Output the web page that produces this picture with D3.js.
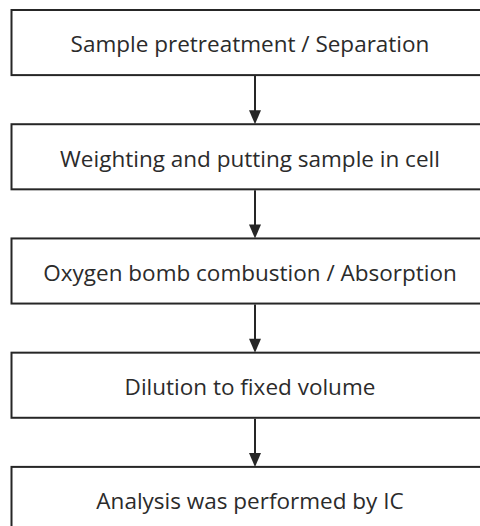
<!DOCTYPE html>
<html>
<head>
<meta charset="utf-8">
<script src="https://cdn.jsdelivr.net/npm/d3@7"></script>
<style>
  html, body { margin: 0; padding: 0; background: #fff; }
  svg { display: block; }
</style>
</head>
<body>
<div id="chart"></div>
<script>
;(function (d3) {

    const WIDTH  = 480;
    const HEIGHT = 526;

    const STROKE_COLOR = "#262626";
    const TEXT_COLOR   = "#2b2b2b";

    // flow steps, top to bottom
    const steps = [
        "Sample pretreatment / Separation",
        "Weighting and putting sample in cell",
        "Oxygen bomb combustion / Absorption",
        "Dilution to fixed volume",
        "Analysis was performed by IC"
    ];

    const boxLeft  = 11.5;
    const boxRight = 488;

    // vertical layout of the boxes
    const yScale = d3.scaleBand()
        .domain(steps)
        .range([10, 532])
        .paddingInner(0.43)
        .paddingOuter(0);

    const svg = d3.select("#chart").append("svg")
        .attr("width", WIDTH)
        .attr("height", HEIGHT);

    // boxes
    svg.selectAll(".box")
        .data(steps)
        .enter()
        .append("rect")
        .attr("class", "box")
        .attr("x", boxLeft)
        .attr("y", d => yScale(d))
        .attr("width", boxRight - boxLeft)
        .attr("height", yScale.bandwidth())
        .style("fill", "#fff")
        .style("stroke", STROKE_COLOR)
        .style("stroke-width", 2);

    // labels
    svg.selectAll(".label")
        .data(steps)
        .enter()
        .append("text")
        .attr("class", "label")
        .attr("x", 250)
        .attr("y", d => yScale(d) + yScale.bandwidth() / 2 + 2)
        .attr("dy", "0.35em")
        .attr("text-anchor", "middle")
        .style("font-family", "'Open Sans', 'Noto Sans', sans-serif")
        .style("font-size", "22.5px")
        .style("fill", TEXT_COLOR)
        .text(d => d);

    // arrows between boxes
    const ARROW_X = 255;
    const HEAD_H  = 14;
    const HEAD_W  = 6;
    const links = d3.pairs(steps);

    svg.selectAll(".shaft")
        .data(links)
        .enter()
        .append("line")
        .attr("class", "shaft")
        .attr("x1", ARROW_X)
        .attr("x2", ARROW_X)
        .attr("y1", d => yScale(d[0]) + yScale.bandwidth() + 1)
        .attr("y2", d => yScale(d[1]) - HEAD_H + 1)
        .style("stroke", STROKE_COLOR)
        .style("stroke-width", 2);

    svg.selectAll(".head")
        .data(links)
        .enter()
        .append("path")
        .attr("class", "head")
        .attr("d", d => {
            const tip = yScale(d[1]);
            return `M${ARROW_X - HEAD_W},${tip - HEAD_H} L${ARROW_X + HEAD_W},${tip - HEAD_H} L${ARROW_X},${tip} Z`;
        })
        .style("fill", STROKE_COLOR);

}(d3));
</script>
</body>
</html>
